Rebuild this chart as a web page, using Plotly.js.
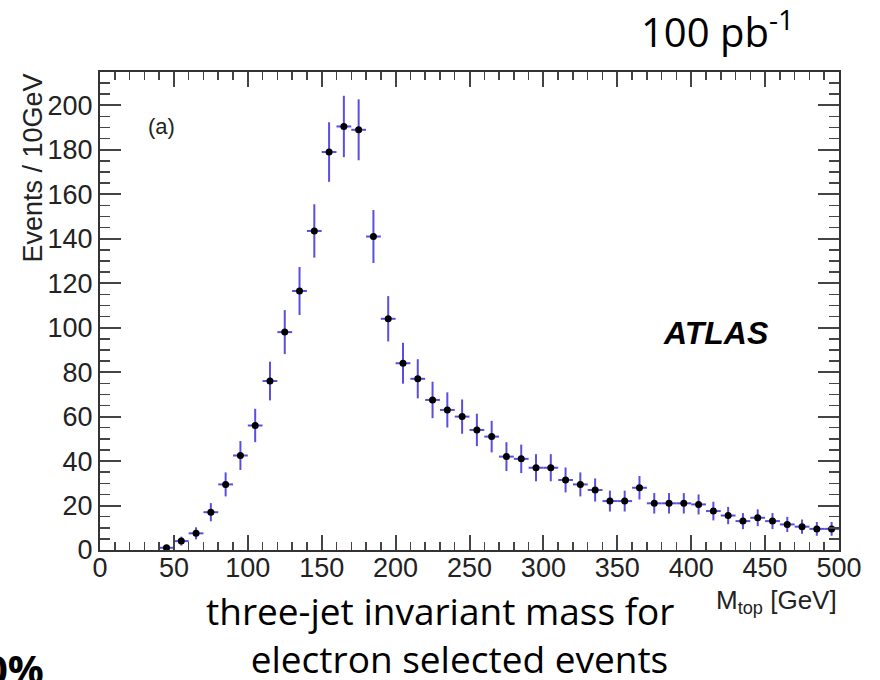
<!DOCTYPE html>
<html>
<head>
<meta charset="utf-8">
<script src="https://cdn.plot.ly/plotly-3.0.1.min.js"></script>
<style>
  html, body { margin: 0; padding: 0; background: #ffffff; }
  #chart { width: 880px; height: 680px; }
</style>
</head>
<body>
<div id="chart"></div>
<script>
// Bin centres of the three-jet invariant mass (GeV), 10 GeV bins
const massCenters = [45, 55, 65, 75, 85, 95, 105, 115, 125, 135, 145, 155, 165, 175, 185, 195,
  205, 215, 225, 235, 245, 255, 265, 275, 285, 295, 305, 315, 325, 335, 345, 355,
  365, 375, 385, 395, 405, 415, 425, 435, 445, 455, 465, 475, 485, 495];
// Events per 10 GeV
const events = [1, 4, 7.5, 17, 29.5, 42.5, 56, 76, 98, 116.5, 143.5, 179, 190.5, 189, 141, 104,
  84, 77, 67.5, 63, 60, 54, 51, 42, 41, 37, 37, 31.5, 29.5, 27, 22, 22,
  28, 21, 21, 21, 20.5, 17.5, 15.5, 13, 14.5, 13, 11.5, 10.5, 9.5, 9.5];
// Statistical uncertainty
const errors = [1.0, 2.0, 2.7, 4.1, 5.4, 6.5, 7.5, 8.7, 9.9, 10.8, 12.0, 13.4, 13.8, 13.7, 11.9, 10.2,
  9.2, 8.8, 8.2, 7.9, 7.7, 7.3, 7.1, 6.5, 6.4, 6.1, 6.1, 5.6, 5.4, 5.2, 4.7, 4.7,
  5.3, 4.6, 4.6, 4.6, 4.5, 4.2, 3.9, 3.6, 3.8, 3.6, 3.4, 3.2, 3.1, 3.1];
const binHalfWidth = 5;
const xTickVals = [0, 50, 100, 150, 200, 250, 300, 350, 400, 450, 500];
const yTickVals = [0, 20, 40, 60, 80, 100, 120, 140, 160, 180, 200];

const errColor = 'rgb(88,78,228)';

const trace = {
  type: 'scatter',
  mode: 'markers',
  x: massCenters,
  y: events,
  marker: { color: '#000000', size: 7, symbol: 'circle' },
  error_y: { type: 'data', array: errors, visible: true, color: errColor, thickness: 2, width: 0 },
  error_x: { type: 'constant', value: binHalfWidth, visible: true, color: errColor, thickness: 2, width: 0 },
  hoverinfo: 'x+y'
};

const tickFont = { family: 'Liberation Sans, Arial, sans-serif', size: 27, color: '#222222' };

const layout = {
  width: 880,
  height: 680,
  paper_bgcolor: '#ffffff',
  plot_bgcolor: '#ffffff',
  showlegend: false,
  margin: { l: 100, r: 41, t: 72, b: 130 },
  xaxis: {
    range: [0, 500],
    tickmode: 'array',
    tickvals: xTickVals,
    ticks: 'inside',
    ticklen: 15,
    tickwidth: 2,
    tickcolor: '#444444',
    minor: { ticks: 'inside', dtick: 10, ticklen: 8, tickwidth: 1.5, tickcolor: '#444444' },
    showline: true,
    linecolor: '#333333',
    linewidth: 2,
    mirror: 'allticks',
    showgrid: false,
    zeroline: false,
    ticklabelstandoff: -7,
    tickfont: tickFont
  },
  yaxis: {
    range: [0, 215],
    tickmode: 'array',
    tickvals: yTickVals,
    ticks: 'inside',
    ticklen: 21,
    tickwidth: 2,
    tickcolor: '#444444',
    minor: { ticks: 'inside', dtick: 5, ticklen: 10, tickwidth: 1.5, tickcolor: '#444444' },
    showline: true,
    linecolor: '#333333',
    linewidth: 2,
    mirror: 'allticks',
    showgrid: false,
    zeroline: false,
    tickfont: tickFont
  },
  annotations: [
    {
      text: 'Events / 10GeV', xref: 'paper', yref: 'paper',
      x: -0.092, y: 1, xanchor: 'center', yanchor: 'top', textangle: -90,
      showarrow: false,
      font: { family: 'Liberation Sans, Arial, sans-serif', size: 27, color: '#222222' }
    },
    {
      text: 'M<sub>top</sub> [GeV]', xref: 'paper', yref: 'paper',
      x: 1, y: (550 - 601) / 478, xanchor: 'right', yanchor: 'middle',
      showarrow: false,
      font: { family: 'Liberation Sans, Arial, sans-serif', size: 26, color: '#222222' }
    },
    {
      text: '(a)', xref: 'paper', yref: 'paper',
      x: 0.062, y: 0.885, xanchor: 'left', yanchor: 'middle',
      showarrow: false,
      font: { family: 'Liberation Sans, Arial, sans-serif', size: 22, color: '#222222' }
    },
    {
      text: '<b><i>ATLAS</i></b>', xref: 'paper', yref: 'paper',
      x: (661 - 100) / 739, y: (550 - 333) / 478, xanchor: 'left', yanchor: 'middle',
      showarrow: false,
      font: { family: 'Liberation Sans, Arial, sans-serif', size: 32, color: '#000000' }
    },
    {
      text: '100 pb<sup>-1</sup>', xref: 'paper', yref: 'paper',
      x: (639 - 100) / 739, y: (550 - 29) / 478, xanchor: 'left', yanchor: 'middle',
      showarrow: false,
      font: { family: 'Open Sans, Noto Sans, sans-serif', size: 40, color: '#000000' }
    },
    {
      text: 'three-jet invariant mass for<br>&nbsp;&nbsp;&nbsp;&nbsp;electron selected events',
      xref: 'paper', yref: 'paper',
      x: (440 - 100) / 739, y: (550 - 634) / 478, xanchor: 'center', yanchor: 'middle',
      align: 'center',
      showarrow: false,
      font: { family: 'Open Sans, Noto Sans, sans-serif', size: 37, color: '#000000' }
    },
    {
      text: '<b>0%</b>', xref: 'paper', yref: 'paper',
      x: (46 - 100) / 739, y: (550 - 639) / 478, xanchor: 'right', yanchor: 'top',
      showarrow: false,
      font: { family: 'Open Sans, Noto Sans, sans-serif', size: 40, color: '#000000' }
    }
  ]
};

Plotly.newPlot('chart', [trace], layout, { displayModeBar: false, staticPlot: true });
</script>
</body>
</html>
